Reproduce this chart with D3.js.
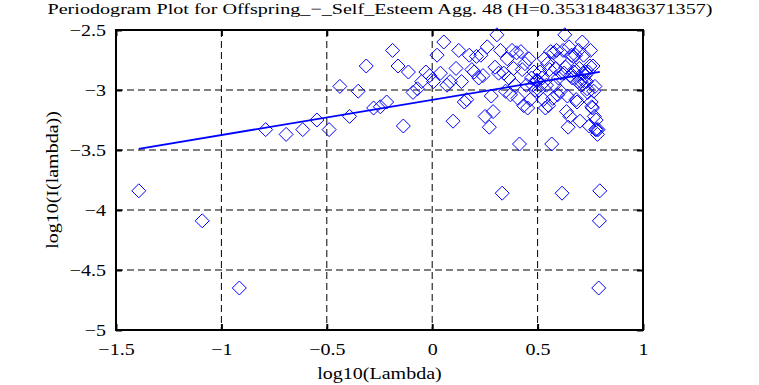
<!DOCTYPE html>
<html>
<head>
<meta charset="utf-8">
<script src="https://cdn.jsdelivr.net/npm/d3@7"></script>
<style>
html,body{margin:0;padding:0;background:#fff;}
svg{display:block;}
text{font-family:"Liberation Serif","Times New Roman",serif;fill:#000;}
</style>
</head>
<body>
<svg id="chart" width="759" height="385"></svg>
<script>
// ---- data ----
const titleText = "Periodogram Plot for Offspring_\u2212_Self_Esteem Agg. 48 (H=0.353184836371357)";
const xLabelText = "log10(Lambda)";
const yLabelText = "log10(I(lambda))";
const xTicks = [-1.5, -1, -0.5, 0, 0.5, 1];
const xTickLabels = ["\u22121.5", "\u22121", "\u22120.5", "0", "0.5", "1"];
const yTicks = [-5, -4.5, -4, -3.5, -3, -2.5];
const yTickLabels = ["\u22125", "\u22124.5", "\u22124", "\u22123.5", "\u22123", "\u22122.5"];

// log10 of frequencies
const logLambda = [
-1.392,-1.091,-0.915,-0.790,-0.693,-0.614,-0.547,-0.489,-0.438,-0.392,
-0.351,-0.313,-0.278,-0.246,-0.216,-0.188,-0.162,-0.137,-0.113,-0.091,
-0.070,-0.050,-0.030,-0.012,0.006,0.023,0.039,0.055,0.070,0.085,
0.099,0.113,0.126,0.139,0.152,0.164,0.176,0.188,0.199,0.210,
0.221,0.231,0.241,0.251,0.261,0.271,0.280,0.289,0.298,0.307,
0.315,0.324,0.332,0.340,0.348,0.356,0.364,0.371,0.379,0.386,
0.393,0.400,0.407,0.414,0.421,0.427,0.434,0.440,0.447,0.453,
0.459,0.465,0.471,0.477,0.483,0.489,0.494,0.500,0.506,0.511,
0.516,0.522,0.527,0.532,0.537,0.542,0.547,0.552,0.557,0.562,
0.567,0.572,0.576,0.581,0.586,0.590,0.595,0.599,0.604,0.608,
0.612,0.616,0.621,0.625,0.629,0.633,0.637,0.641,0.645,0.649,
0.653,0.657,0.661,0.665,0.669,0.672,0.676,0.680,0.683,0.687,
0.691,0.694,0.698,0.701,0.705,0.708,0.712,0.715,0.718,0.722,
0.725,0.728,0.732,0.735,0.738,0.741,0.745,0.748,0.751,0.754,
0.757,0.760,0.763,0.766,0.769,0.772,0.775,0.778,0.781,0.784,
0.787,0.790,0.793,0.795
];
// log10 of periodogram values
const logPeriodogram = [
-3.84,-4.09,-4.65,-3.33,-3.37,-3.33,-3.25,-3.33,-2.97,-3.22,
-3.01,-2.80,-3.15,-3.14,-3.10,-2.67,-2.80,-3.30,-2.85,-3.02,
-2.99,-2.93,-2.85,-2.88,-2.93,-2.71,-2.86,-2.60,-2.96,-2.93,
-3.26,-2.82,-2.67,-2.93,-3.10,-3.08,-2.71,-2.83,-2.85,-2.72,
-2.90,-2.71,-2.88,-3.22,-2.64,-3.31,-3.05,-3.18,-2.81,-2.54,
-2.86,-2.67,-3.86,-2.86,-3.01,-2.74,-2.90,-3.04,-2.67,-2.82,
-2.96,-2.69,-3.07,-3.45,-2.68,-2.83,-3.13,-2.78,-2.96,-3.15,
-2.74,-3.08,-2.90,-2.96,-2.85,-3.00,-2.92,
-2.92,-3.00,-2.85,-2.96,-2.90,-3.08,-2.74,
-3.15,-2.96,-2.78,-3.13,-2.83,-2.68,-3.45,-3.07,-2.69,-2.96,
-2.82,-2.67,-3.04,-2.90,-2.74,-3.01,-2.86,-3.86,-2.67,-2.86,
-2.54,-2.81,-3.18,-3.05,-3.31,-2.64,-3.22,-2.88,-2.71,-2.90,
-2.72,-2.85,-2.83,-2.71,-3.08,-3.10,-2.93,-2.67,-2.82,-3.26,
-2.93,-2.96,-2.60,-2.86,-2.71,-2.93,-2.88,-2.85,-2.93,-2.99,
-3.02,-2.85,-3.30,-2.80,-2.67,-3.10,-3.14,-3.15,-2.80,-3.01,
-3.22,-2.97,-3.33,-3.25,-3.33,-3.37,-3.33,-4.65,-4.09,-3.84
];
// least-squares fit line endpoints
const fitX = [-1.392, 0.795];
const fitY = [-3.49, -2.849];

// ---- layout ----
const W = 759, H = 385;
const m = {left:116, right:116, top:30, bottom:55};
const pw = W - m.left - m.right, ph = H - m.top - m.bottom;
const stretch = 1.25;

const svg = d3.select("#chart");
const g = svg.append("g").attr("transform", `translate(${m.left},${m.top})`);

const x = d3.scaleLinear().domain([-1.5, 1]).range([0, pw]);
const y = d3.scaleLinear().domain([-5, -2.5]).range([ph, 0]);

// grid
g.append("g").selectAll("line").data(xTicks.slice(1, -1)).join("line")
  .attr("x1", d => x(d)).attr("x2", d => x(d)).attr("y1", 0).attr("y2", ph)
  .attr("stroke", "#000").attr("stroke-width", 1).attr("stroke-dasharray", "7,4");
g.append("g").selectAll("line").data(yTicks.slice(1, -1)).join("line")
  .attr("y1", d => y(d)).attr("y2", d => y(d)).attr("x1", 0).attr("x2", pw)
  .attr("stroke", "#000").attr("stroke-width", 1).attr("stroke-dasharray", "7,4");

// axes (ticks inward on all four sides)
const tickLen = 6;
const axB = d3.axisBottom(x).tickValues(xTicks).tickSize(-tickLen).tickFormat((d,i) => xTickLabels[i]).tickPadding(12);
const axT = d3.axisTop(x).tickValues(xTicks).tickSize(-tickLen).tickFormat("");
const axL = d3.axisLeft(y).tickValues(yTicks).tickSize(-tickLen).tickFormat((d,i) => yTickLabels[i]).tickPadding(12);
const axR = d3.axisRight(y).tickValues(yTicks).tickSize(-tickLen).tickFormat("");

function styleAxis(sel){
  sel.select(".domain").remove();
  sel.selectAll(".tick line").attr("stroke", "#000").attr("stroke-width", 2);
  sel.selectAll("text").style("font-size", "16px").attr("fill", "#000");
}
const gB = g.append("g").attr("transform", `translate(0,${ph})`).call(axB).call(styleAxis);
const gT = g.append("g").call(axT).call(styleAxis);
const gL = g.append("g").call(axL).call(styleAxis);
const gR = g.append("g").attr("transform", `translate(${pw},0)`).call(axR).call(styleAxis);

gB.selectAll("text").attr("dy", "0.71em").attr("y", 14);
gL.selectAll("text").attr("x", -10).attr("dy", "0.35em");

// frame
g.append("rect").attr("x", 0).attr("y", 0).attr("width", pw).attr("height", ph)
  .attr("fill", "none").attr("stroke", "#000").attr("stroke-width", 2);

// fit line
const lineData = fitX.map((d, i) => [d, fitY[i]]);
g.append("path").datum(lineData)
  .attr("d", d3.line().x(d => x(d[0])).y(d => y(d[1])))
  .attr("fill", "none").attr("stroke", "#0000ff").attr("stroke-width", 1.8);

// points
const pts = logLambda.map((d, i) => [d, logPeriodogram[i]]);
const r = 7;
g.append("g").selectAll("path").data(pts).join("path")
  .attr("transform", d => `translate(${x(d[0])},${y(d[1])})`)
  .attr("d", `M0,${-r}L${r},0L0,${r}L${-r},0Z`)
  .attr("fill", "none").attr("stroke", "#0000ff").attr("stroke-width", 1);

// titles
svg.append("text").attr("class", "title").attr("x", 380).attr("y", 14)
  .attr("text-anchor", "middle").style("font-size", "15px").text(titleText);
svg.append("text").attr("class", "xlabel").attr("x", m.left + pw/2).attr("y", 379)
  .attr("text-anchor", "middle").style("font-size", "16px").text(xLabelText);
svg.append("text").attr("class", "ylabel")
  .attr("transform", `translate(58,${m.top + ph/2}) rotate(-90)`)
  .attr("text-anchor", "middle").style("font-size", "16px").text(yLabelText);

// horizontal stretch of text to match the reference's wide glyphs
svg.selectAll("text").each(function(){
  const t = d3.select(this);
  if (!t.text()) return;
  const len = this.getComputedTextLength();
  const target = t.classed("title") ? 665 : len * stretch;
  t.attr("textLength", target).attr("lengthAdjust", "spacingAndGlyphs");
});
</script>
</body>
</html>
